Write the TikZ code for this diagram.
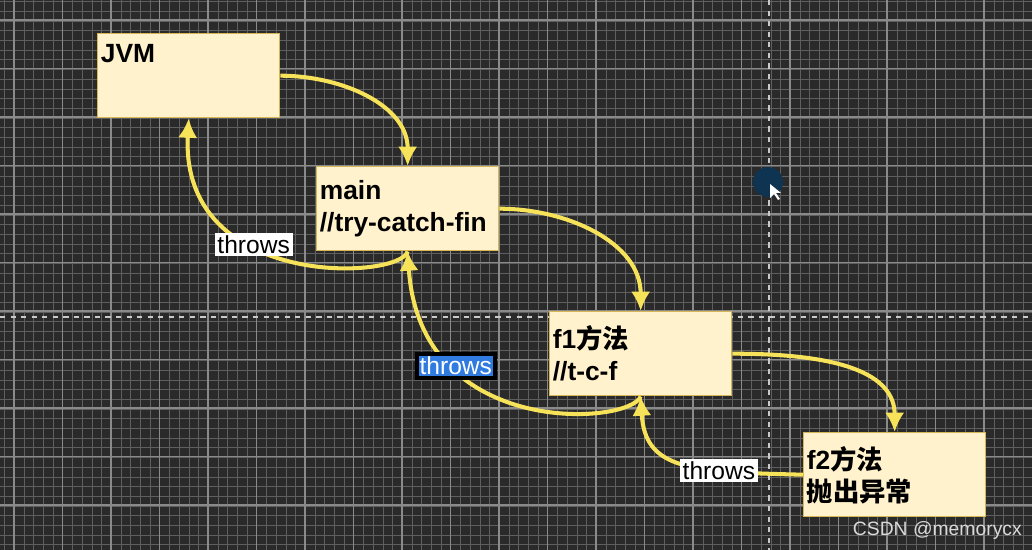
\documentclass[tikz,border=0pt]{standalone}
\usepackage{fontspec}
\setmainfont{Liberation Sans}
\newfontfamily\cjk{Noto Sans CJK SC}
\usetikzlibrary{arrows.meta}
\definecolor{bgdark}{HTML}{2A2A2A}
\definecolor{boxfill}{HTML}{FFF2CC}
\definecolor{boxline}{HTML}{D6B656}
\definecolor{arrowyel}{HTML}{F7E35A}
\definecolor{selblue}{HTML}{2F7BE0}
\definecolor{cursorblue}{HTML}{0F3452}
\begin{document}
\begin{tikzpicture}[x=0.02cm,y=-0.02cm,
	box node/.style = {draw=boxline,fill=boxfill,line width=0.8pt,minimum width=3.64cm,minimum height=1.68cm,anchor=north west,inner sep=0pt},
	box text/.style = {anchor=north west,align=left,font=\bfseries\fontsize{15}{18}\selectfont,inner sep=2pt},
	call/.style = {draw=arrowyel,line width=2.3pt,-{Latex[length=11pt,width=11pt]}},
	lbl/.style = {fill=white,text=black,font=\fontsize{14}{16}\selectfont,inner sep=1.5pt}]
	% background and grid
	\fill[bgdark] (0,0) rectangle (1032,550);
	\useasboundingbox (0,0) rectangle (1032,550);
	\foreach \i in {0,...,106} {\draw[white!25!bgdark,line width=0.4pt] (4.6+9.7*\i,0) -- (4.6+9.7*\i,550);}
	\foreach \i in {0,...,57} {\draw[white!25!bgdark,line width=0.4pt] (0,1.6+9.7*\i) -- (1032,1.6+9.7*\i);}
	\foreach \i in {0,...,21} {\draw[white!45!bgdark,line width=0.6pt] (14+48.5*\i,0) -- (14+48.5*\i,550);}
	\foreach \i in {0,...,11} {\draw[white!45!bgdark,line width=0.6pt] (0,20+48.5*\i) -- (1032,20+48.5*\i);}
	\draw[white!75!bgdark,dashed,line width=0.6pt] (769,0) -- (769,550);
	\draw[white!75!bgdark,dashed,line width=0.6pt] (0,317) -- (1032,317);
	\fill[cursorblue] (768,182) circle (15);
	\fill[white] (770,184) -- (770,198) -- (774,194) -- (778,200) -- (780,199) -- (776,193) -- (781,193) -- cycle;
	
	\node[box node] (jvm) at (97,33) {};
	\node[box node] (main) at (316,166) {};
	\node[box node] (f1) at (549,311) {};
	\node[box node] (f2) at (803,432) {};
	\node[box text] at ([yshift=-4pt]jvm.north west) {JVM};
	\node[box text] at ([yshift=-6pt]main.north west) {main\\//try-catch-fin};
	\node[box text] at ([yshift=-6pt]f1.north west) {f1{\cjk 方法}\\//t-c-f};
	\node[box text] at ([yshift=-6pt]f2.north west) {f2{\cjk 方法}\\{\cjk 抛出异常}};
	
	\draw[call] (jvm.east) to[out=0,in=90] (main.north);
	\draw[call] (main.east) to[out=0,in=90] (f1.north);
	\draw[call] (f1.east) to[out=0,in=90] (f2.north);
	\draw[call] (f2.west) .. controls (690,472) and (645,470) .. node[lbl,pos=0.3] {throws} (f1.south);
	\draw[call] (f1.south) .. controls (630,425) and (420,440) .. node[lbl,pos=0.72,fill=selblue,text=white,draw=black] {throws} (main.south);
	\draw[call] (main.south) .. controls (400,280) and (180,290) .. node[lbl,pos=0.62] {throws} (jvm.south);
	
	\node[text=white!85!black,font=\fontsize{11}{13}\selectfont,anchor=south east] (mark) at (1028,546) {CSDN @memorycx};
\end{tikzpicture}
\end{document}
